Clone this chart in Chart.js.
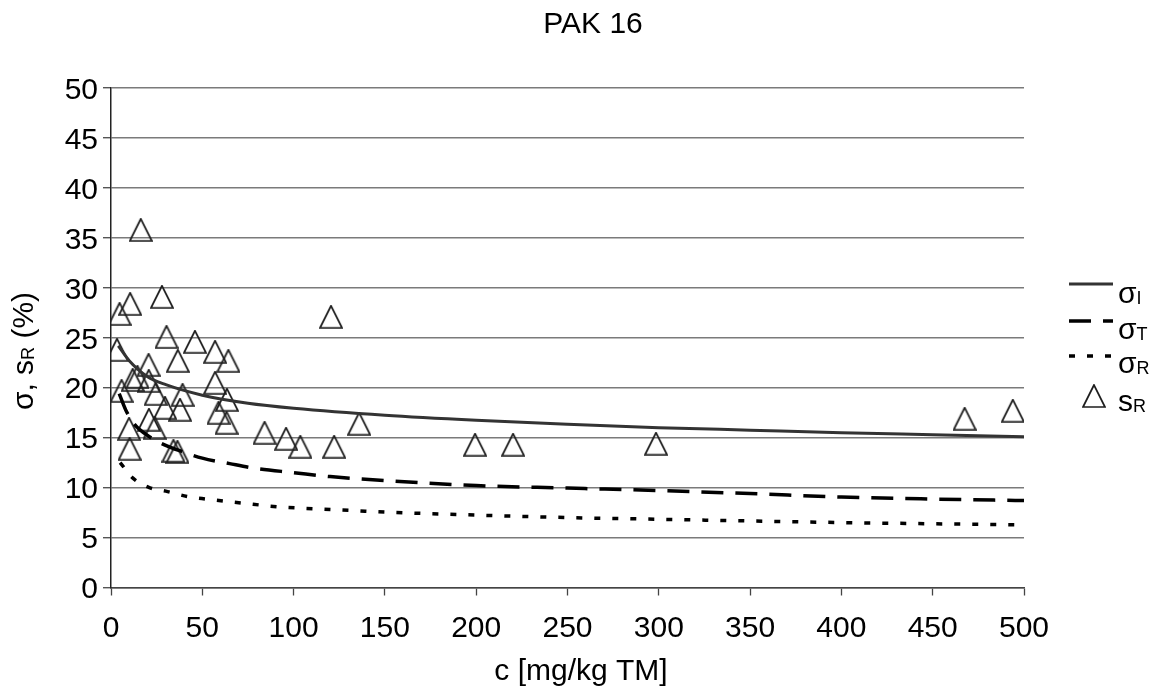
<!DOCTYPE html>
<html>
<head>
<meta charset="utf-8">
<title>PAK 16</title>
<script src="https://cdn.jsdelivr.net/npm/chart.js@4/dist/chart.umd.min.js"></script>
<style>
  body { margin: 0; background: #fff; }
  canvas { display: block; }
</style>
</head>
<body>
<canvas id="pakChart" width="1157" height="688"></canvas>
<script>
// measured sR values: concentration c [mg/kg TM] and relative SD (%)
const concSR = [16.3, 27.9, 10.5, 4.7, 30.4, 46.0, 57.0, 64.3, 36.6, 3.3,
  20.6, 14.5, 20.7, 57.0, 5.8, 24.5, 39.2, 63.5, 29.6, 37.8,
  58.9, 63.3, 20.8, 23.9, 9.9, 10.2, 34.2, 36.4, 84.1, 95.9,
  103.7, 120.5, 122.2, 135.9, 199.4, 220.2, 298.5, 467.5, 493.9, 11.9];
const sR = [35.8, 29.1, 28.4, 27.4, 25.1, 24.6, 23.6, 22.7, 22.7, 23.8,
  22.3, 21.1, 20.7, 20.5, 19.7, 19.4, 19.3, 18.8, 18.0, 17.8,
  17.5, 16.5, 16.8, 16.0, 15.9, 13.9, 13.7, 13.6, 15.5, 14.9,
  14.1, 27.1, 14.1, 16.4, 14.3, 14.3, 14.4, 16.9, 17.7, 20.8];

// sigma_I curve
const concI = [4, 10, 20, 30, 50, 75, 100, 150, 200, 250, 300, 350, 400, 450, 500];
const sigmaI = [24.2, 22.7, 21.1, 20.3, 19.25, 18.45, 17.95, 17.25, 16.75, 16.35, 16.0, 15.75, 15.5, 15.3, 15.1];

// sigma_T curve
const concT = [4.5, 8, 13, 21, 29, 39, 50, 65, 80, 100, 120, 150, 200, 250, 300, 350, 400, 450, 500];
const sigmaT = [19.4, 17.8, 16.3, 15.1, 14.3, 13.6, 12.95, 12.4, 11.9, 11.5, 11.1, 10.7, 10.2, 9.95, 9.7, 9.4, 9.05, 8.85, 8.7];

// sigma_R curve
const concR = [5, 12, 21, 31, 42, 52, 72, 92, 113, 133, 150, 200, 250, 300, 350, 400, 450, 500];
const sigmaR = [12.5, 10.95, 10.0, 9.6, 9.1, 8.85, 8.45, 8.07, 7.87, 7.7, 7.55, 7.25, 7.0, 6.83, 6.66, 6.5, 6.38, 6.27];

const FONT = '"Liberation Sans", Arial, sans-serif';

const toPoints = (xs, ys) => xs.map((x, i) => ({ x: x, y: ys[i] }));

// open triangle marker
const tri = document.createElement('canvas');
tri.width = 24;
tri.height = 24;
(function () {
  const c = tri.getContext('2d');
  c.strokeStyle = '#1e1e1e';
  c.lineWidth = 1.7;
  c.beginPath();
  c.moveTo(12, 1);
  c.lineTo(1, 23);
  c.lineTo(23, 23);
  c.closePath();
  c.stroke();
})();

// text with subscript pieces: [['σ, s'], ['R', true], [' (%)']]
function richWidth(ctx, parts) {
  let w = 0;
  parts.forEach(p => {
    ctx.font = p[1] ? '18px ' + FONT : '30px ' + FONT;
    w += ctx.measureText(p[0]).width;
  });
  return w;
}
function drawRich(ctx, parts, x, y) {
  parts.forEach(p => {
    ctx.font = p[1] ? '18px ' + FONT : '30px ' + FONT;
    ctx.fillText(p[0], x, p[1] ? y + 1 : y);
    x += ctx.measureText(p[0]).width;
  });
}

const decorations = {
  id: 'decorations',
  afterDraw(chart) {
    const ctx = chart.ctx;
    ctx.save();
    ctx.fillStyle = '#000';
    ctx.textBaseline = 'alphabetic';

    // chart title and x axis title
    ctx.font = '30px ' + FONT;
    ctx.textAlign = 'center';
    ctx.fillText('PAK 16', 593, 33);
    ctx.fillText('c [mg/kg TM]', 581, 680);

    // y axis title, rotated
    ctx.textAlign = 'left';
    const yTitle = [['σ, s'], ['R', true], [' (%)']];
    const w = richWidth(ctx, yTitle);
    ctx.save();
    ctx.translate(33, 351);
    ctx.rotate(-Math.PI / 2);
    drawRich(ctx, yTitle, -w / 2, 0);
    ctx.restore();

    // legend
    const x0 = 1069, x1 = 1113, tx = 1118;
    const rows = [
      { y: 284, base: 303, dash: [], width: 3, color: '#333', label: [['σ'], ['I', true]] },
      { y: 321, base: 339, dash: [22, 12], width: 3.5, color: '#000', label: [['σ'], ['T', true]] },
      { y: 356, base: 373, dash: [6, 12], width: 3.5, color: '#000', label: [['σ'], ['R', true]] }
    ];
    rows.forEach(r => {
      ctx.save();
      ctx.strokeStyle = r.color;
      ctx.lineWidth = r.width;
      ctx.setLineDash(r.dash);
      ctx.beginPath();
      ctx.moveTo(x0, r.y);
      ctx.lineTo(x1, r.y);
      ctx.stroke();
      ctx.restore();
      drawRich(ctx, r.label, tx, r.base);
    });
    ctx.drawImage(tri, 1094 - 12, 396 - 12);
    drawRich(ctx, [['s'], ['R', true]], tx, 411);
    ctx.restore();
  }
};

const lineBase = {
  showLine: true,
  fill: false,
  pointRadius: 0,
  pointHoverRadius: 0,
  cubicInterpolationMode: 'monotone'
};

new Chart(document.getElementById('pakChart'), {
  type: 'scatter',
  data: {
    datasets: [
      Object.assign({ label: 'σI', data: toPoints(concI, sigmaI), borderColor: '#333', borderWidth: 3 }, lineBase),
      Object.assign({ label: 'σT', data: toPoints(concT, sigmaT), borderColor: '#000', borderWidth: 3.5, borderDash: [22, 12] }, lineBase),
      Object.assign({ label: 'σR', data: toPoints(concR, sigmaR), borderColor: '#000', borderWidth: 3.5, borderDash: [6, 12] }, lineBase),
      {
        label: 'sR',
        data: toPoints(concSR, sR),
        showLine: false,
        pointStyle: tri,
        pointRadius: 12,
        pointHoverRadius: 12
      }
    ]
  },
  options: {
    responsive: false,
    animation: false,
    events: [],
    layout: { padding: { top: 88, right: 133, left: 0, bottom: 0 } },
    plugins: {
      legend: { display: false },
      title: { display: false },
      tooltip: { enabled: false }
    },
    scales: {
      x: {
        type: 'linear',
        position: 'bottom',
        min: 0,
        max: 500,
        afterFit: scale => { scale.height = 100.5; },
        ticks: {
          stepSize: 50,
          padding: 15,
          color: '#000',
          font: { family: FONT, size: 30 }
        },
        grid: {
          drawOnChartArea: false,
          drawTicks: true,
          tickLength: 8,
          tickColor: '#444',
          tickWidth: 1.3
        },
        border: { color: '#444', width: 1.5 }
      },
      y: {
        min: 0,
        max: 50,
        afterFit: scale => { scale.width = 111; },
        ticks: {
          stepSize: 5,
          padding: 5,
          labelOffset: 2.5,
          color: '#000',
          font: { family: FONT, size: 30 }
        },
        grid: {
          color: '#7a7a7a',
          lineWidth: 1.4,
          drawTicks: true,
          tickLength: 8,
          tickColor: '#555'
        },
        border: { color: '#222', width: 1.5 }
      }
    }
  },
  plugins: [decorations]
});
</script>
</body>
</html>
